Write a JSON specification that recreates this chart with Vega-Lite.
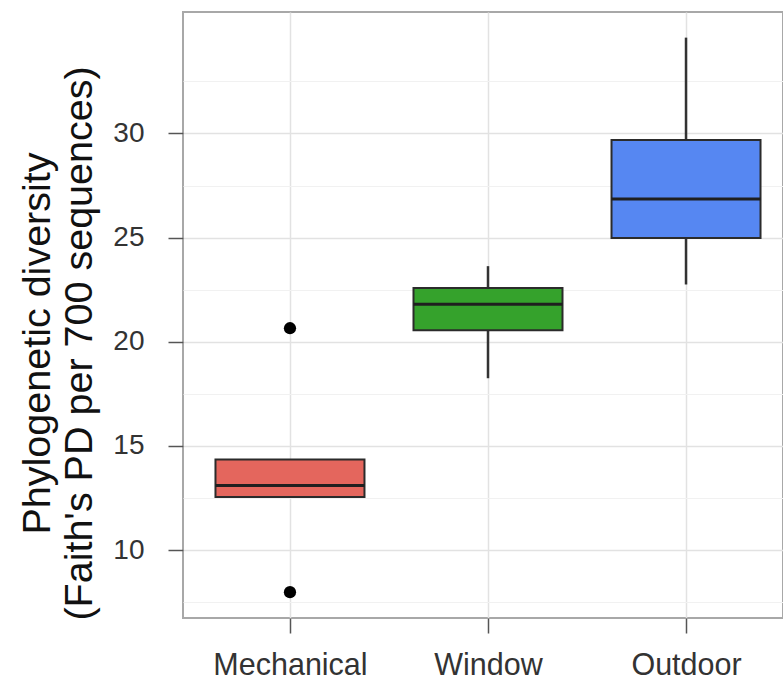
{
  "$schema": "https://vega.github.io/schema/vega-lite/v6.json",
  "autosize": {"type": "none"},
  "padding": {"left": 183, "top": 12, "right": 0, "bottom": 68},
  "width": 600,
  "height": 606,
  "background": "white",
  "config": {
    "font": "Liberation Sans",
    "view": {"stroke": "#a8a8a8", "strokeWidth": 2},
    "axis": {"labelFont": "Liberation Sans", "titleFont": "Liberation Sans"},
    "axisY": {"ticks": true, "tickSize": 15, "tickWidth": 1.5, "tickColor": "#555555"}
  },
  "datasets": {
    "boxes": [
      {"cat": "Mechanical", "lower": 12.55, "q1": 12.55, "median": 13.1, "q3": 14.35, "upper": 14.35},
      {"cat": "Window", "lower": 18.25, "q1": 20.55, "median": 21.8, "q3": 22.58, "upper": 23.63},
      {"cat": "Outdoor", "lower": 22.75, "q1": 24.98, "median": 26.85, "q3": 29.68, "upper": 34.6}
    ],
    "outliers": [
      {"cat": "Mechanical", "value": 20.65},
      {"cat": "Mechanical", "value": 7.98}
    ]
  },
  "encoding": {
    "x": {
      "field": "cat",
      "type": "nominal",
      "sort": ["Mechanical", "Window", "Outdoor"],
      "scale": {"type": "point", "padding": 0.515, "align": 0.5245},
      "axis": {
        "title": null,
        "labelAngle": 0,
        "domain": false,
        "grid": true,
        "gridColor": "#e2e2e2",
        "gridWidth": 1.5,
        "ticks": true,
        "tickSize": 15,
        "tickColor": "#555555",
        "tickWidth": 1.5,
        "labelFontSize": 30.5,
        "labelColor": "#333333",
        "labelPadding": 17
      }
    }
  },
  "layer": [
    {
      "data": {"name": "boxes"},
      "mark": {"type": "rule", "color": "#333333", "strokeWidth": 2.5},
      "encoding": {
        "y": {
          "field": "lower",
          "type": "quantitative",
          "scale": {"domain": [6.74, 35.83], "nice": false, "zero": false},
          "axis": {
            "values": [7.5, 10, 12.5, 15, 17.5, 20, 22.5, 25, 27.5, 30, 32.5],
            "domain": false,
            "grid": true,
            "gridColor": {"condition": {"test": "datum.value % 5 === 0", "value": "#e2e2e2"}, "value": "#f1f1f1"},
            "gridWidth": {"condition": {"test": "datum.value % 5 === 0", "value": 1.5}, "value": 1.2},
            "tickOpacity": {"condition": {"test": "datum.value % 5 === 0", "value": 1}, "value": 0},
            "labelExpr": "datum.value % 5 === 0 ? datum.label : ''",
            "labelOverlap": false,
            "labelFontSize": 28,
            "labelColor": "#333333",
            "labelPadding": 24,
            "title": ["Phylogenetic diversity", "(Faith's PD per 700 sequences)"],
            "titleFontSize": 39.5,
            "titleFontWeight": "normal",
            "titleColor": "#111111",
            "titlePadding": 13,
            "titleLineHeight": 42,
            "titleY": 331
          }
        },
        "y2": {"field": "q1"}
      }
    },
    {
      "data": {"name": "boxes"},
      "mark": {"type": "rule", "color": "#333333", "strokeWidth": 2.5},
      "encoding": {
        "y": {"field": "q3", "type": "quantitative"},
        "y2": {"field": "upper"}
      }
    },
    {
      "data": {"name": "boxes"},
      "mark": {"type": "bar", "size": 149, "stroke": "#2b2b2b", "strokeWidth": 2, "opacity": 1},
      "encoding": {
        "y": {"field": "q1", "type": "quantitative"},
        "y2": {"field": "q3"},
        "color": {
          "field": "cat",
          "type": "nominal",
          "scale": {"domain": ["Mechanical", "Window", "Outdoor"], "range": ["#e4665d", "#35a22c", "#5687f2"]},
          "legend": null
        }
      }
    },
    {
      "data": {"name": "boxes"},
      "mark": {"type": "tick", "size": 149, "thickness": 3, "color": "#1f1f1f", "opacity": 1},
      "encoding": {
        "y": {"field": "median", "type": "quantitative"}
      }
    },
    {
      "data": {"name": "outliers"},
      "mark": {"type": "point", "filled": true, "shape": "circle", "size": 150, "color": "#000000", "opacity": 1},
      "encoding": {
        "y": {"field": "value", "type": "quantitative"}
      }
    }
  ]
}
